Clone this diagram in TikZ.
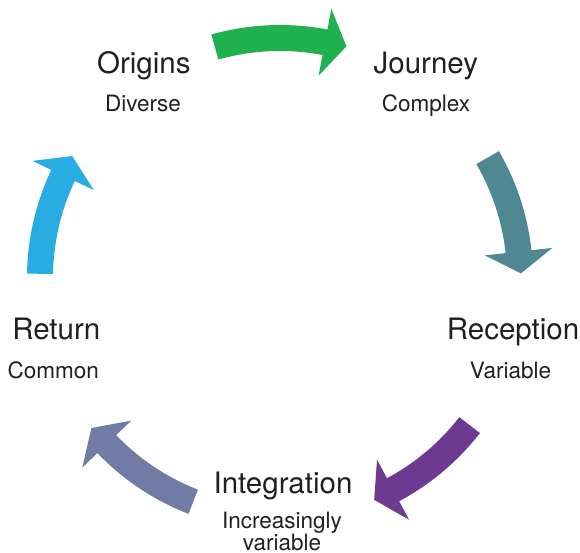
\documentclass[tikz,border=0pt]{standalone}
\usepackage{fontspec}
\setmainfont{TeX Gyre Heros}
\definecolor{cgreen}{RGB}{33,176,80}
\definecolor{cteal}{RGB}{79,136,146}
\definecolor{cpurple}{RGB}{109,57,145}
\definecolor{cslate}{RGB}{112,124,163}
\definecolor{cblue}{RGB}{40,172,226}
\definecolor{ctext}{RGB}{35,31,32}
\newcommand\cyclearrow[4]{%
  \fill[#1] (#2:253) arc[start angle=#2, end angle=#3, radius=253]
    -- (#3:274) -- (#4:241) -- (#3:206) -- (#3:227)
    arc[start angle=#3, end angle=#2, radius=227] -- cycle;}
\tikzset{
  title/.style={anchor=base, inner sep=0pt, text=ctext, font=\fontsize{29.5}{32}\selectfont},
  sub/.style={anchor=base, inner sep=0pt, text=ctext, font=\fontsize{22.5}{22}\selectfont},
}
\begin{document}
\begin{tikzpicture}[x=1pt,y=1pt]
\useasboundingbox (0,0) rectangle (580,553);
\begin{scope}[shift={(280,275)}]
  \cyclearrow{cgreen}{105.75}{79.2}{74}
  \cyclearrow{cteal}{30.1}{6.3}{1.1}
  \cyclearrow{cpurple}{-37.8}{-61.9}{-67}
  \cyclearrow{cslate}{248.8}{223.8}{218.5}
  \cyclearrow{cblue}{179}{154.7}{149.6}
\end{scope}
\node[title] (origins) at (143.8,479.5) {Origins};
\node[sub] (diverse) at (143,441) {Diverse};
\node[title] (journey) at (425.8,479.5) {Journey};
\node[sub] (complex) at (426,441) {Complex};
\node[title] (reception) at (513,213.5) {Reception};
\node[sub] (variable) at (510.5,174) {Variable};
\node[title] (return) at (56.3,213.7) {Return};
\node[sub] (common) at (53.3,174.5) {Common};
\node[title] (integration) at (283,59) {Integration};
\node[sub, anchor=north, align=center] (incvar) at (282,40.7) {Increasingly\\variable};
\end{tikzpicture}
\end{document}
